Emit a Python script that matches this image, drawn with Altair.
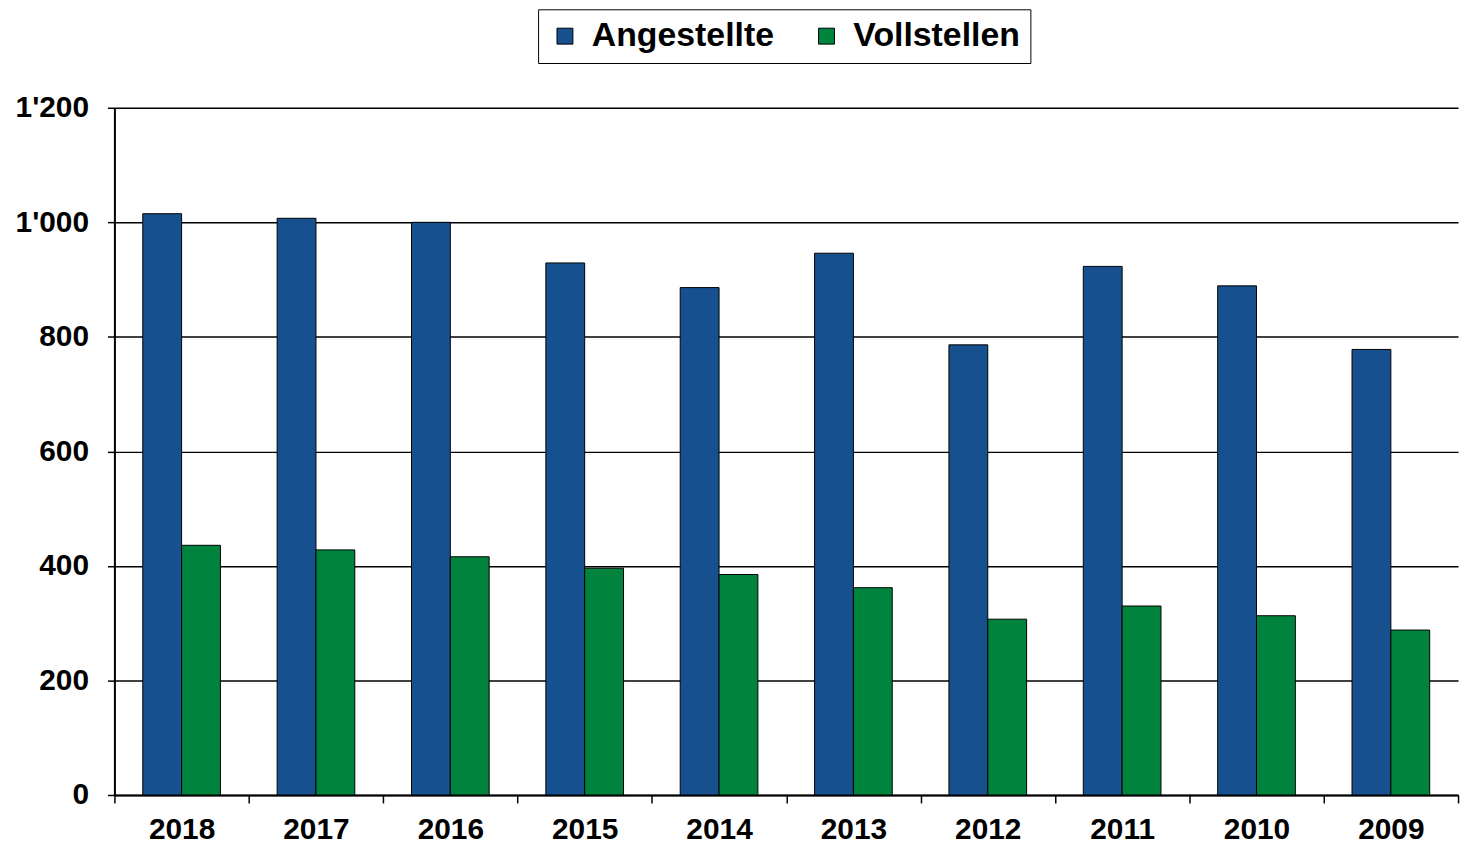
import altair as alt
import pandas as pd

years = ["2018", "2017", "2016", "2015", "2014", "2013", "2012", "2011", "2010", "2009"]
angestellte = [1015, 1007, 1000, 929, 886, 946, 786, 923, 889, 778]
vollstellen = [436, 428, 416, 396, 385, 362, 307, 330, 313, 288]
series = ["Angestellte", "Vollstellen"]
colors = ["#17508e", "#00843d"]
y_ticks = [0, 200, 400, 600, 800, 1000, 1200]

rows = []
for yr, a, v in zip(years, angestellte, vollstellen):
    rows.append({"Jahr": yr, "Serie": series[0], "Wert": a})
    rows.append({"Jahr": yr, "Serie": series[1], "Wert": v})
df = pd.DataFrame(rows)

font = "Liberation Sans"

chart = alt.Chart(df).mark_bar(stroke="black", strokeWidth=1).encode(
    x=alt.X(
        "Jahr:N", sort=years,
        scale=alt.Scale(paddingInner=0, paddingOuter=0),
        axis=alt.Axis(
            title=None, labelAngle=0, tickBand="extent",
            domainColor="black", domainWidth=2,
            tickColor="black", tickWidth=1.5, tickSize=8,
            labelFont=font, labelFontSize=30, labelFontWeight="bold",
            labelColor="black", labelPadding=12,
        ),
    ),
    xOffset=alt.XOffset("Serie:N", sort=series,
                        scale=alt.Scale(paddingInner=0, paddingOuter=0.73)),
    y=alt.Y(
        "Wert:Q",
        scale=alt.Scale(domain=[0, 1200]),
        axis=alt.Axis(
            title=None, values=y_ticks,
            labelExpr="replace(format(datum.value, ','), ',', \"'\")",
            grid=True, gridColor="black", gridWidth=1.5,
            domainColor="black", domainWidth=2,
            tickColor="black", tickWidth=1.5, tickSize=7,
            labelFont=font, labelFontSize=30, labelFontWeight="bold",
            labelColor="black", labelPadding=19,
        ),
    ),
    color=alt.Color(
        "Serie:N", sort=series,
        scale=alt.Scale(domain=series, range=colors),
        legend=alt.Legend(
            title=None, orient="none", legendX=426, legendY=-99,
            direction="horizontal",
            strokeColor="black", fillColor="white", padding=10,
            labelFont=font, labelFontSize=34, labelFontWeight="bold",
            labelColor="black", labelOffset=10, labelLimit=500,
            symbolType="square", symbolSize=256,
            symbolStrokeColor="black", symbolStrokeWidth=1,
            columnPadding=35,
        ),
    ),
).properties(
    width=1351, height=691,
    autosize=alt.AutoSizeParams(type="none"),
    padding={"left": 107, "top": 98, "right": 8, "bottom": 53},
).configure_view(stroke=None)

chart.save("out.html", embed_options={"renderer": "svg", "actions": False})
